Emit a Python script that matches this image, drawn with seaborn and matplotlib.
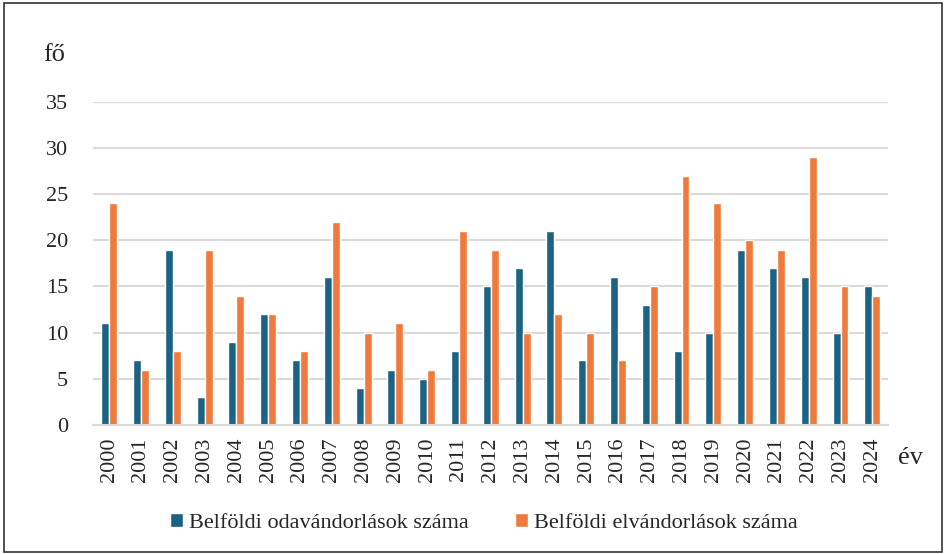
"""
Belföldi oda- és elvándorlások száma évenként (2000–2024), csoportosított oszlopdiagram.
"""

import matplotlib.pyplot as plt
import pandas as pd
import seaborn as sns
from matplotlib.patches import Rectangle

years = [str(y) for y in range(2000, 2025)]
odavandorlas = [11, 7, 19, 3, 9, 12, 7, 16, 4, 6, 5, 8, 15, 17, 21, 7, 16, 13, 8, 10, 19, 17, 16, 10, 15]
elvandorlas = [24, 6, 8, 19, 14, 12, 8, 22, 10, 11, 6, 21, 19, 10, 12, 10, 7, 15, 27, 24, 20, 19, 29, 15, 14]
series_names = ["Belföldi odavándorlások száma", "Belföldi elvándorlások száma"]
yticks = [0, 5, 10, 15, 20, 25, 30, 35]

BLUE = "#1b6283"
ORANGE = "#ee7b3c"


def main():
    df = pd.DataFrame({
        "ev": years * 2,
        "fo": odavandorlas + elvandorlas,
        "sorozat": [series_names[0]] * len(years) + [series_names[1]] * len(years),
    })

    sns.set_theme(style="white")
    plt.rcParams["font.family"] = ["Liberation Serif", "DejaVu Serif"]

    fig = plt.figure(figsize=(9.52, 5.54), dpi=100)
    ax = fig.add_axes([0.098, 0.233, 0.835, 0.583])

    sns.barplot(
        data=df, x="ev", y="fo", hue="sorozat", order=years, hue_order=series_names,
        palette=[BLUE, ORANGE], width=0.5, gap=0.0, edgecolor="white", linewidth=1.0,
        saturation=1, ax=ax,
    )

    ax.set_ylim(0, 35)
    ax.set_yticks(yticks)
    ax.set_yticklabels([str(t) for t in yticks], fontsize=16)
    ax.yaxis.grid(True, color="#d9d9d9", linewidth=1.5)
    ax.set_axisbelow(True)
    ax.tick_params(axis="y", length=0, pad=18)
    ax.tick_params(axis="x", length=0, pad=9, labelsize=16, rotation=90)
    for s in ["top", "right", "left"]:
        ax.spines[s].set_visible(False)
    ax.spines["bottom"].set_color("#d9d9d9")
    ax.spines["bottom"].set_linewidth(1.5)
    ax.set_xlabel("")
    ax.set_ylabel("")
    ax.set_xlim(-0.5, len(years) - 0.5)

    fig.text(0.045, 0.9, "fő", fontsize=19, ha="left", va="center")
    fig.text(0.943, 0.173, "év", fontsize=19, ha="left", va="center")

    handles, labels = ax.get_legend_handles_labels()
    ax.legend(
        handles, labels, loc="center", bbox_to_anchor=(0.508, 0.056), bbox_transform=fig.transFigure,
        ncol=2, frameon=False, fontsize=16, handlelength=0.6, handleheight=0.6,
        handletextpad=0.25, columnspacing=2.1,
    )

    fig.patches.append(Rectangle((0.004, 0.004), 0.985, 0.99, transform=fig.transFigure,
                                 fill=False, edgecolor="#333333", linewidth=1.2))

    fig.savefig("out.png", dpi=100)
    plt.close(fig)


if __name__ == "__main__":
    main()
